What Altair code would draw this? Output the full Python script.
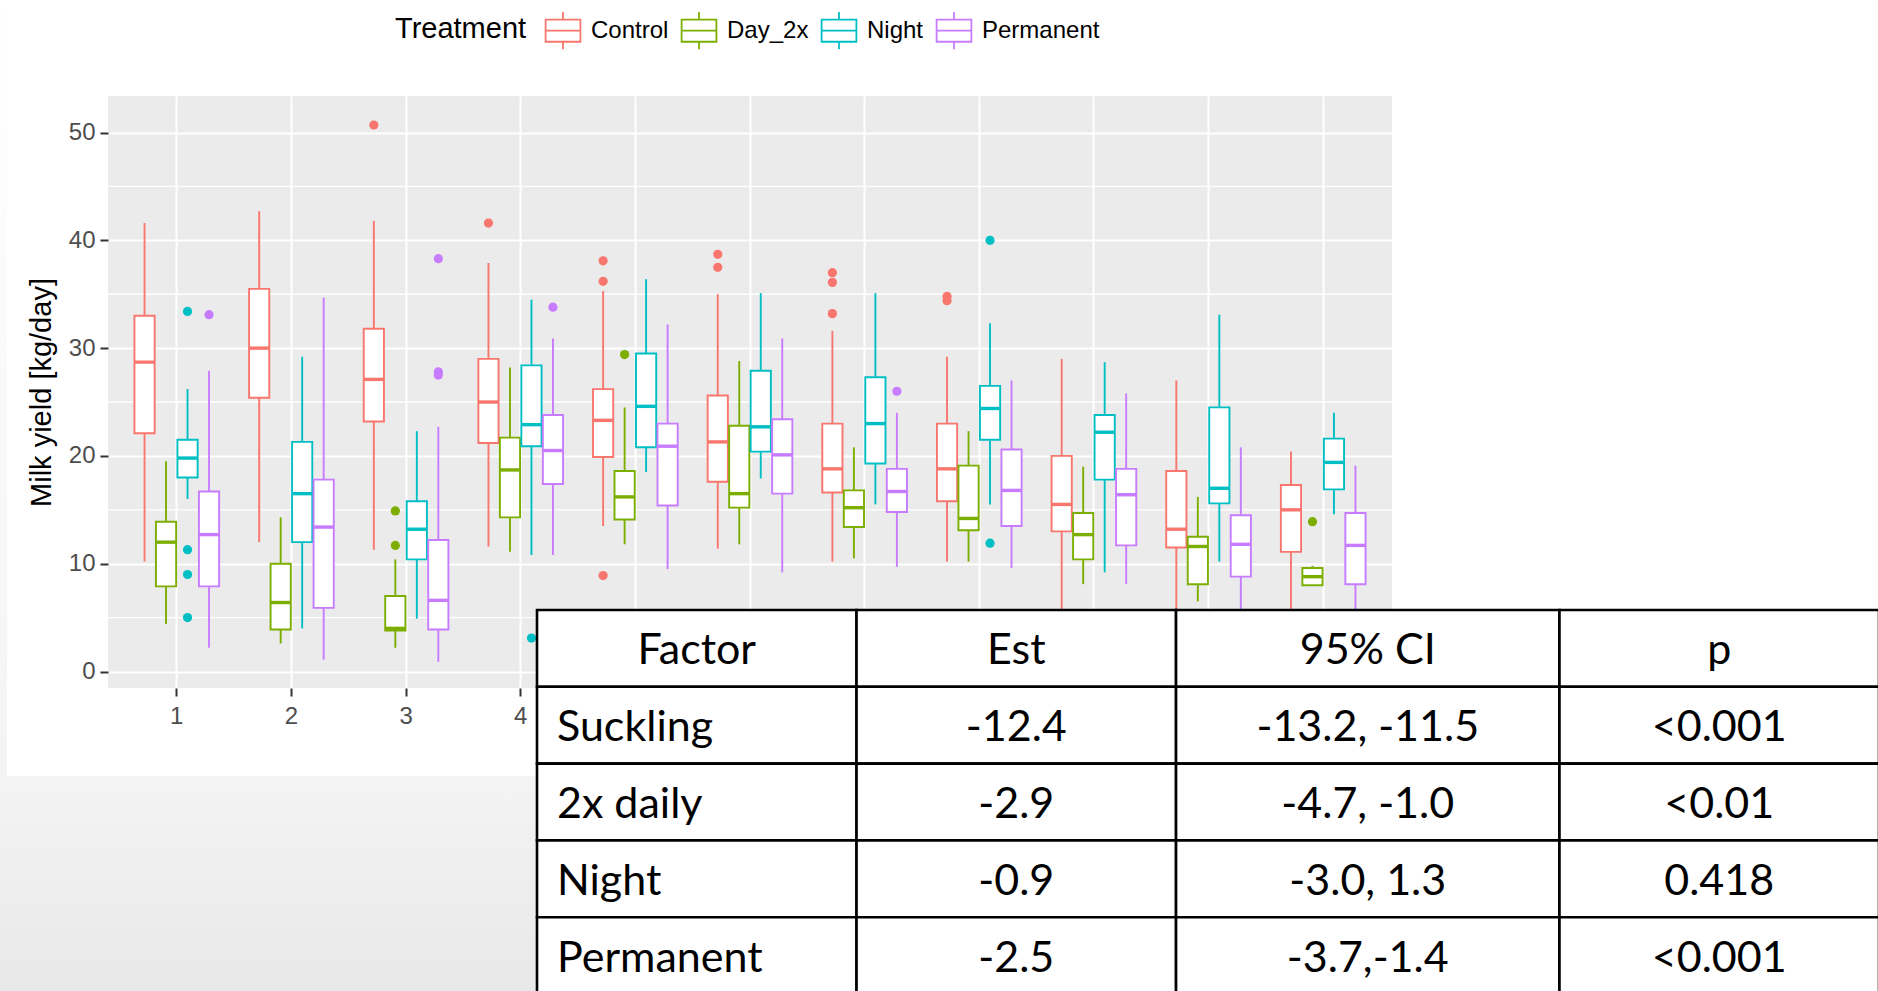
import altair as alt
import pandas as pd

# ---------------------------------------------------------------- data
weeks = list(range(1, 12))
treatments = ["Control", "Day_2x", "Night", "Permanent"]
treatment_colors = ["#F8766D", "#7CAE00", "#00BFC4", "#C77CFF"]

# Box summaries per week: lower whisker, Q1, median, Q3, upper whisker
control_low = [10.2, 12.0, 11.3, 11.6, 13.5, 11.4, 10.2, 10.2, 3.5, 3.0, 3.0]
control_q1 = [22.1, 25.4, 23.2, 21.2, 19.9, 17.6, 16.6, 15.8, 13.0, 11.5, 11.1]
control_med = [28.7, 30.0, 27.1, 25.0, 23.3, 21.3, 18.8, 18.8, 15.5, 13.2, 15.0]
control_q3 = [33.0, 35.5, 31.8, 29.0, 26.2, 25.6, 23.0, 23.0, 20.0, 18.6, 17.3]
control_high = [41.6, 42.7, 41.8, 37.9, 35.3, 35.0, 31.6, 29.2, 29.0, 27.0, 20.4]

day2x_low = [4.4, 2.6, 2.2, 11.1, 11.8, 11.8, 10.5, 10.2, 8.1, 6.5, 8.0]
day2x_q1 = [7.9, 3.9, 3.8, 14.3, 14.1, 15.2, 13.4, 13.1, 10.4, 8.1, 8.0]
day2x_med = [12.0, 6.4, 4.0, 18.7, 16.2, 16.5, 15.2, 14.2, 12.7, 11.6, 8.8]
day2x_q3 = [13.9, 10.0, 7.0, 21.7, 18.6, 22.8, 16.8, 19.1, 14.7, 12.5, 9.6]
day2x_high = [19.5, 14.3, 10.4, 28.2, 24.5, 28.8, 20.8, 22.3, 19.0, 16.2, 9.8]

night_low = [16.0, 4.0, 4.9, 10.8, 18.5, 17.9, 15.5, 15.5, 9.2, 10.2, 14.6]
night_q1 = [18.0, 12.0, 10.4, 20.9, 20.8, 20.4, 19.3, 21.5, 17.8, 15.6, 16.9]
night_med = [19.8, 16.5, 13.2, 22.9, 24.6, 22.7, 23.0, 24.4, 22.2, 17.0, 19.4]
night_q3 = [21.5, 21.3, 15.8, 28.4, 29.5, 27.9, 27.3, 26.5, 23.8, 24.5, 21.6]
night_high = [26.2, 29.2, 22.3, 34.5, 36.4, 35.1, 35.1, 32.3, 28.7, 33.1, 24.0]

perm_low = [2.2, 1.1, 0.9, 10.8, 9.5, 9.2, 9.7, 9.6, 8.1, 4.5, 4.0]
perm_q1 = [7.9, 5.9, 3.9, 17.4, 15.4, 16.5, 14.8, 13.5, 11.7, 8.8, 8.1]
perm_med = [12.7, 13.4, 6.6, 20.5, 20.9, 20.1, 16.7, 16.8, 16.4, 11.8, 11.7]
perm_q3 = [16.7, 17.8, 12.2, 23.8, 23.0, 23.4, 18.8, 20.6, 18.8, 14.5, 14.7]
perm_high = [27.9, 34.7, 22.7, 30.9, 32.2, 30.9, 24.0, 27.0, 25.8, 20.8, 19.1]

# Outlying observations
outlier_week = [1, 1, 1, 1, 1, 3, 3, 3, 3, 3, 3, 4, 4, 4,
                5, 5, 5, 5, 6, 6, 7, 7, 7, 7, 8, 8, 8, 8, 11]
outlier_treatment = ["Night", "Night", "Night", "Night", "Permanent",
                     "Control", "Day_2x", "Day_2x", "Permanent", "Permanent", "Permanent",
                     "Control", "Night", "Permanent",
                     "Control", "Control", "Control", "Day_2x",
                     "Control", "Control",
                     "Control", "Control", "Control", "Permanent",
                     "Control", "Control", "Night", "Night",
                     "Day_2x"]
outlier_value = [33.4, 11.3, 9.0, 5.0, 33.1,
                 50.7, 14.9, 11.7, 38.3, 27.8, 27.5,
                 41.6, 3.1, 33.8,
                 38.1, 36.2, 8.9, 29.4,
                 38.7, 37.5,
                 37.0, 36.1, 33.2, 26.0,
                 34.8, 34.4, 40.0, 11.9,
                 13.9]

y_major = [0, 10, 20, 30, 40, 50]
y_minor = [5, 15, 25, 35, 45]

# Regression table
table_header = ["Factor", "Est", "95% CI", "p"]
factor_col = ["Suckling", "2x daily", "Night", "Permanent"]
est_col = ["-12.4", "-2.9", "-0.9", "-2.5"]
ci_col = ["-13.2, -11.5", "-4.7, -1.0", "-3.0, 1.3", "-3.7,-1.4"]
p_col = ["<0.001", "<0.01", "0.418", "<0.001"]

# ---------------------------------------------------------------- tables
summaries = {
    "Control": (control_low, control_q1, control_med, control_q3, control_high),
    "Day_2x": (day2x_low, day2x_q1, day2x_med, day2x_q3, day2x_high),
    "Night": (night_low, night_q1, night_med, night_q3, night_high),
    "Permanent": (perm_low, perm_q1, perm_med, perm_q3, perm_high),
}
box_rows = []
for t in treatments:
    lo, a, m, b, hi = summaries[t]
    for i, w in enumerate(weeks):
        box_rows.append(dict(week=w, treatment=t, low=lo[i], q1=a[i],
                             median=m[i], q3=b[i], high=hi[i]))
boxes = pd.DataFrame(box_rows)
outliers = pd.DataFrame(dict(week=outlier_week, treatment=outlier_treatment,
                             value=outlier_value))

col_widths = [1.0, 1.0, 1.2, 1.0]
table_rows = [table_header] + [list(r) for r in zip(factor_col, est_col, ci_col, p_col)]
cells = []
for r, row in enumerate(table_rows):
    x0 = 0.0
    for c, txt in enumerate(row):
        w = col_widths[c]
        left = c == 0 and r > 0
        cells.append(dict(r0=r, r1=r + 1, c0=x0, c1=x0 + w, text=txt,
                          tx=x0 if left else x0 + w / 2, ty=r + 0.5,
                          anchor="left" if left else "center"))
        x0 += w
cells = pd.DataFrame(cells)

# ---------------------------------------------------------------- layout
PANEL_W, PANEL_H = 1284, 592
PAD = {"left": 108, "top": 96, "right": 486, "bottom": 303}
GG_FONT = "Liberation Sans"
TABLE_FONT = "Lato"
LINE_W = 1.9

x_scale = alt.Scale(type="band", domain=weeks, paddingInner=0.25, paddingOuter=0.225)
xo_scale = alt.Scale(type="band", domain=treatments, paddingInner=0.06, paddingOuter=0.03)
y_scale = alt.Scale(domain=[-1.53, 53.39], nice=False, zero=False)

x_enc = alt.X("week:O", scale=x_scale, title=None,
              axis=alt.Axis(labelAngle=0, bandPosition=0.5, grid=True,
                            gridColor="white", gridWidth=2, domain=False,
                            tickColor="#333333", tickSize=8, tickWidth=2,
                            labelFont=GG_FONT, labelFontSize=24,
                            labelColor="#4D4D4D", labelPadding=8,
                            labelExpr="datum.value <= 4 ? datum.label : ''"))
xo_enc = alt.XOffset("treatment:N", scale=xo_scale)
y_axis = alt.Axis(values=y_major, grid=True, gridColor="white", gridWidth=2,
                  domain=False, tickColor="#333333", tickSize=8, tickWidth=2,
                  labelFont=GG_FONT, labelFontSize=24, labelColor="#4D4D4D",
                  labelPadding=5, title="Milk yield [kg/day]",
                  titleFont=GG_FONT, titleFontSize=29, titleColor="black",
                  titleFontWeight="normal", titlePadding=12)

# Boxplot key glyph drawn as filled outlines (box ring with a median bar,
# plus whiskers), so the key colour fills only the lines.
box_glyph = ("M-0.841,-0.551H0.841V0.551H-0.841Z "
             "M-0.759,-0.469V-0.041H0.759V-0.469Z "
             "M-0.759,0.041V0.469H0.759V0.041Z "
             "M-0.041,-0.86H0.041V-0.551H-0.041Z "
             "M-0.041,0.551H0.041V0.86H-0.041Z")

stroke_enc = alt.Stroke(
    "treatment:N",
    scale=alt.Scale(domain=treatments, range=treatment_colors),
    title="Treatment",
    legend=alt.Legend(orient="none", legendX=287, legendY=-87.5,
                      direction="horizontal", titleOrient="left",
                      titleAnchor="middle", titleBaseline="middle",
                      titleFont=GG_FONT, titleFontSize=29,
                      titleFontWeight="normal", titleColor="black",
                      titlePadding=14, labelFont=GG_FONT, labelFontSize=24,
                      labelColor="black", labelOffset=6, columnPadding=8,
                      symbolType=box_glyph, symbolSize=1892,
                      symbolStrokeWidth=0, padding=0),
)
fill_enc = alt.Color("treatment:N",
                     scale=alt.Scale(domain=treatments, range=treatment_colors),
                     legend=None)

base = alt.Chart(boxes)

minor_grid = alt.Chart(pd.DataFrame({"v": y_minor})).mark_rule(
    color="white", strokeWidth=1.3
).encode(y=alt.Y("v:Q", scale=y_scale, axis=y_axis))

whisker_low = base.mark_rule(strokeWidth=LINE_W).encode(
    x=x_enc, xOffset=xo_enc,
    y=alt.Y("low:Q", scale=y_scale, axis=y_axis), y2="q1:Q", stroke=stroke_enc)
whisker_high = base.mark_rule(strokeWidth=LINE_W).encode(
    x=x_enc, xOffset=xo_enc,
    y=alt.Y("q3:Q", scale=y_scale, axis=y_axis), y2="high:Q", stroke=stroke_enc)
box_fill = base.mark_rect(color="white").encode(
    x=x_enc, xOffset=xo_enc,
    y=alt.Y("q1:Q", scale=y_scale, axis=y_axis), y2="q3:Q")
box_outline = base.mark_rect(filled=False, strokeWidth=LINE_W).encode(
    x=x_enc, xOffset=xo_enc,
    y=alt.Y("q1:Q", scale=y_scale, axis=y_axis), y2="q3:Q", stroke=stroke_enc)
median_tick = base.mark_tick(thickness=3.4, size=20, opacity=1).encode(
    x=x_enc, xOffset=xo_enc,
    y=alt.Y("median:Q", scale=y_scale, axis=y_axis), color=fill_enc)
outlier_pts = alt.Chart(outliers).mark_circle(size=85, opacity=1).encode(
    x=x_enc, xOffset=xo_enc,
    y=alt.Y("value:Q", scale=y_scale, axis=y_axis), color=fill_enc)

plot = alt.layer(minor_grid, whisker_low, whisker_high, box_fill,
                 box_outline, median_tick, outlier_pts)

# ---------------------------------------------------------------- table
tx_scale = alt.Scale(domain=[0, sum(col_widths)], range=[429, 1771], nice=False, zero=False)
ty_scale = alt.Scale(domain=[0, 5], range=[514, 898], nice=False, zero=False)
tbl = alt.Chart(cells)
table_cells = tbl.mark_rect(fill="white", stroke="black", strokeWidth=2.6).encode(
    x=alt.X("c0:Q", scale=tx_scale, axis=None), x2="c1:Q",
    y=alt.Y("r0:Q", scale=ty_scale, axis=None), y2="r1:Q")
text_center = tbl.transform_filter(alt.datum.anchor == "center").mark_text(
    font=TABLE_FONT, fontSize=43, color="black", align="center",
    baseline="alphabetic", dy=16
).encode(x=alt.X("tx:Q", scale=tx_scale, axis=None),
         y=alt.Y("ty:Q", scale=ty_scale, axis=None), text="text:N")
text_left = tbl.transform_filter(alt.datum.anchor == "left").mark_text(
    font=TABLE_FONT, fontSize=43, color="black", align="left",
    baseline="alphabetic", dx=20, dy=16
).encode(x=alt.X("tx:Q", scale=tx_scale, axis=None),
         y=alt.Y("ty:Q", scale=ty_scale, axis=None), text="text:N")
table = alt.layer(table_cells, text_center, text_left)

# ---------------------------------------------------------------- slide backdrop
one = pd.DataFrame({"k": [0]})
left_strip = alt.Chart(one).mark_rect(
    color=alt.LinearGradient(gradient="linear", x1=0, y1=0, x2=0, y2=1,
                             stops=[alt.GradientStop(color="#FFFFFF", offset=0),
                                    alt.GradientStop(color="#F4F4F4", offset=1)])
).encode(x=alt.value(-108), x2=alt.value(-101), y=alt.value(-96), y2=alt.value(680))
bottom_band = alt.Chart(one).mark_rect(
    color=alt.LinearGradient(gradient="linear", x1=0, y1=0, x2=0, y2=1,
                             stops=[alt.GradientStop(color="#F4F4F4", offset=0),
                                    alt.GradientStop(color="#E8E8E8", offset=1)])
).encode(x=alt.value(-108), x2=alt.value(1770), y=alt.value(680), y2=alt.value(895))
backdrop = alt.layer(left_strip, bottom_band)

chart = alt.layer(backdrop, plot, table).resolve_scale(
    x="independent", y="independent"
).properties(
    width=PANEL_W, height=PANEL_H, padding=PAD,
    autosize=alt.AutoSizeParams(type="none"), background="white"
).configure_view(fill="#EBEBEB", stroke=None)

chart.save("out.html", embed_options={"renderer": "svg", "actions": False})
